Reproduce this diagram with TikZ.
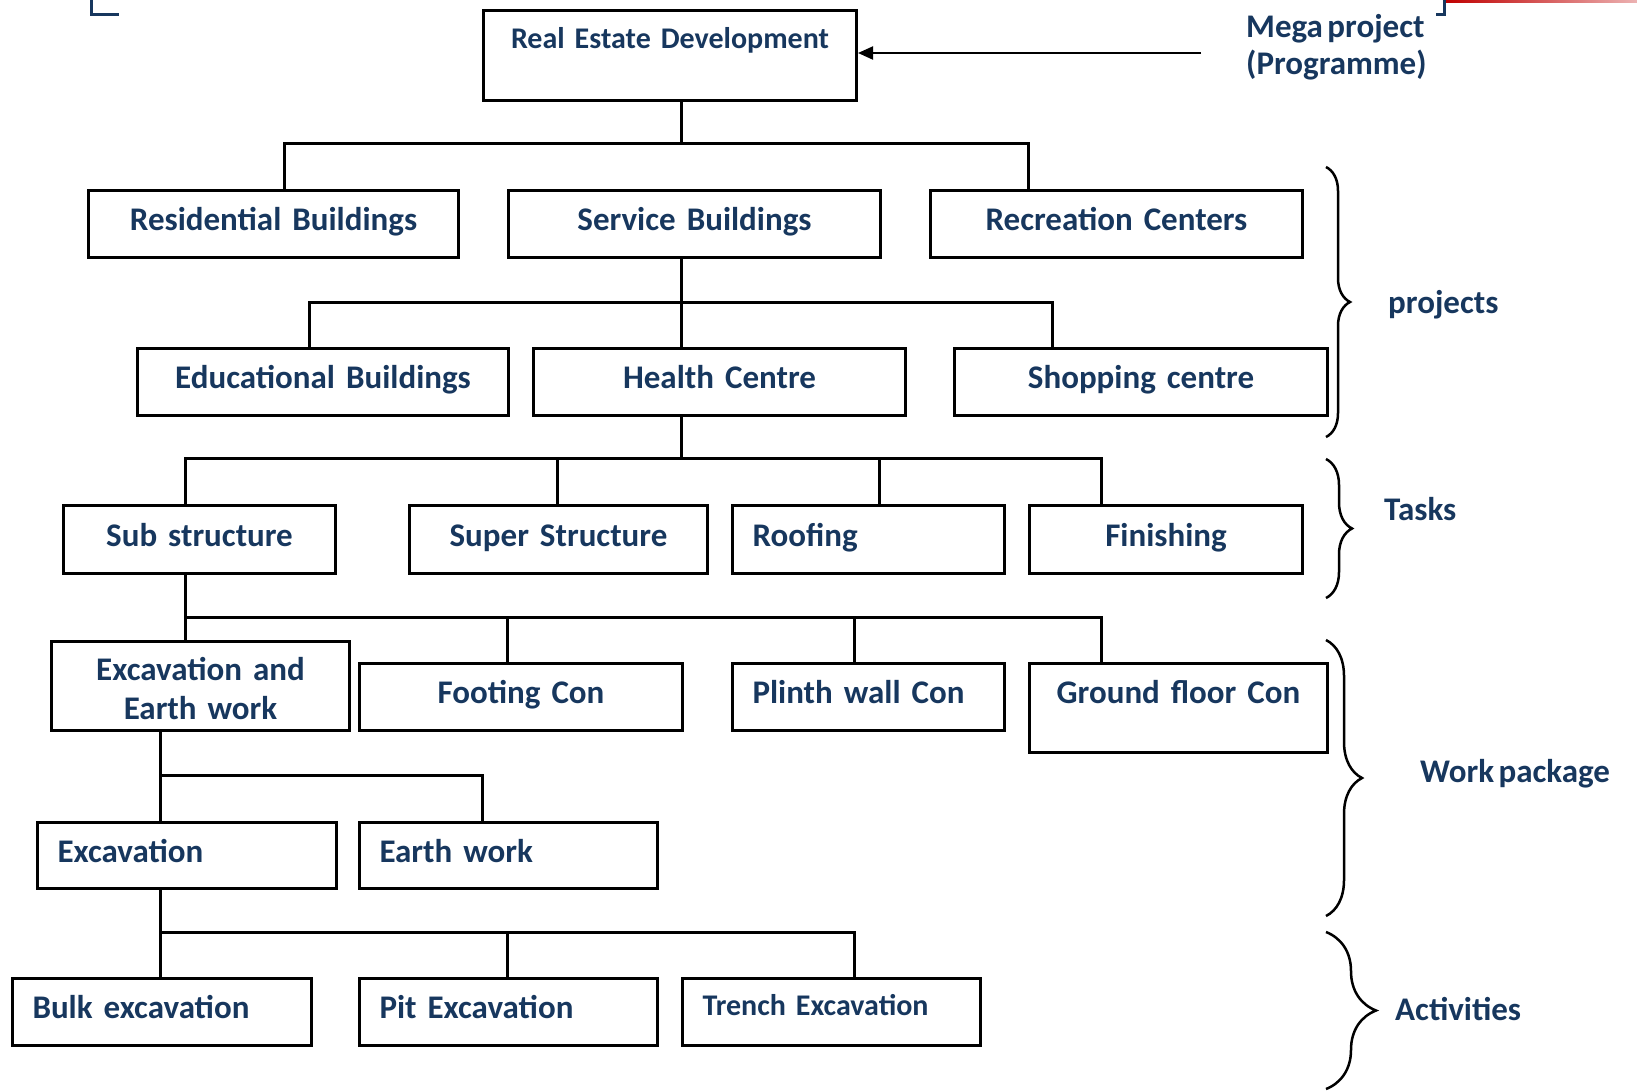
\documentclass[tikz,border=0pt]{standalone}
\usepackage{fontspec}
\setmainfont{Carlito}[WordSpace=0.6]
\usetikzlibrary{decorations.pathreplacing,arrows.meta}
\definecolor{navy}{HTML}{17375E}
\definecolor{framered}{HTML}{C00000}
\newcommand\wbsfont{\fontsize{33}{39}\selectfont\bfseries}
\newcommand\wbssmall{\fontsize{30}{36}\selectfont\bfseries}

\begin{document}
\begin{tikzpicture}[x=1pt,y=-1pt,
  box/.style={draw,line width=3pt,inner xsep=20pt,inner ysep=0pt,anchor=north west,
    text=navy,font=\wbsfont,text height=21.25pt,text depth=8pt},
  sz/.style 2 args={minimum width=#1pt,minimum height=#2pt,text width=#1pt-40pt},
  link/.style={line width=3pt},
  brace/.style={decorate,decoration={brace,amplitude=#1},line width=2.5pt},
  lbl/.style={text=navy,font=\wbsfont,inner sep=0pt,anchor=west,text height=21.25pt,text depth=0pt}]
\useasboundingbox (0,0) rectangle (1637,1090);

\draw[navy,line width=3pt] (91,0) -- (91,14) -- (119,14);
\draw[navy,line width=3pt] (1436,14) -- (1444,14) -- (1444,0);
\shade[left color=framered,right color=framered!30] (1446,0) rectangle (1637,2.7);

\node[box,sz={373}{90},align=center,font=\wbssmall,text height=19.3pt,text depth=33pt] (dev) at (482,9) {Real Estate Development};

\node[box,sz={370}{67},align=center] (resi) at (87,189) {Residential Buildings};
\node[box,sz={372}{67},align=center] (serv) at (507,189) {Service Buildings};
\node[box,sz={372}{67},align=center] (recr) at (929,189) {Recreation Centers};

\node[box,sz={371}{67},align=center] (edu) at (136,347) {Educational Buildings};
\node[box,sz={372}{67},align=center] (health) at (532,347) {Health Centre};
\node[box,sz={373}{67},align=center] (shop) at (953,347) {Shopping centre};

\node[box,sz={272}{68},align=center] (sub) at (62,504) {Sub structure};
\node[box,sz={298}{68},align=center] (super) at (408,504) {Super Structure};
\node[box,sz={272}{68},align=left] (roof) at (731,504) {Roofing};
\node[box,sz={273}{68},align=center] (finish) at (1028,504) {Finishing};

\node[box,sz={298}{89},align=center,text depth=32pt] (exearth) at (50,640) {Excavation and\\Earth work};
\node[box,sz={323}{67},align=center] (footing) at (358,662) {Footing Con};
\node[box,sz={272}{67},align=left] (plinth) at (731,662) {Plinth wall Con};
\node[box,sz={298}{89},align=center,text depth=30.6pt] (ground) at (1028,662) {Ground floor Con};

\node[box,sz={299}{66},align=left] (excav) at (36,821) {Excavation};
\node[box,sz={298}{66},align=left] (earth) at (358,821) {Earth work};

\node[box,sz={299}{67},align=left] (bulk) at (11,977) {Bulk excavation};
\node[box,sz={298}{67},align=left] (pit) at (358,977) {Pit Excavation};
\node[box,sz={298}{67},align=left,font=\wbssmall,text height=19.3pt,text depth=13pt] (trench) at (681,977) {Trench Excavation};

\coordinate (megaend) at (1201,53);
\draw[line width=2pt,-{Triangle[length=15pt,width=13pt]}] (megaend) -- (dev.east |- megaend);
\node[text=navy,font=\fontsize{33}{36.5}\selectfont\bfseries,inner sep=0pt,anchor=base west,align=left] (mega) at (1246,74) {Mega project\\(Programme)};

\coordinate (bus1) at (681,143);
\coordinate (bus1l) at (284,143);
\coordinate (bus1r) at (1028,143);
\draw[link] (dev.south -| bus1) -- (bus1);
\draw[link] (resi.north -| bus1l) -- (bus1l) -- (bus1r) -- (recr.north -| bus1r);

\coordinate (bus2) at (681,302);
\coordinate (bus2l) at (309,302);
\coordinate (bus2r) at (1052,302);
\draw[link] (serv.south -| bus2) -- (health.north -| bus2);
\draw[link] (edu.north -| bus2l) -- (bus2l) -- (bus2r) -- (shop.north -| bus2r);

\coordinate (bus3) at (681,458);
\coordinate (bus3l) at (185,458);
\coordinate (bus3a) at (557,458);
\coordinate (bus3b) at (879,458);
\coordinate (bus3r) at (1101,458);
\draw[link] (health.south -| bus3) -- (bus3);
\draw[link] (sub.north -| bus3l) -- (bus3l) -- (bus3r) -- (finish.north -| bus3r);
\draw[link] (bus3a) -- (super.north -| bus3a);
\draw[link] (bus3b) -- (roof.north -| bus3b);

\coordinate (bus4l) at (185,617);
\coordinate (bus4a) at (507,617);
\coordinate (bus4b) at (854,617);
\coordinate (bus4r) at (1101,617);
\draw[link] (sub.south -| bus4l) -- (exearth.north -| bus4l);
\draw[link] (bus4l) -- (bus4r) -- (ground.north -| bus4r);
\draw[link] (bus4a) -- (footing.north -| bus4a);
\draw[link] (bus4b) -- (plinth.north -| bus4b);

\coordinate (bus5l) at (160,775);
\coordinate (bus5r) at (482,775);
\draw[link] (exearth.south -| bus5l) -- (excav.north -| bus5l);
\draw[link] (bus5l) -- (bus5r) -- (earth.north -| bus5r);

\coordinate (bus6l) at (160,932);
\coordinate (bus6a) at (507,932);
\coordinate (bus6r) at (854,932);
\draw[link] (excav.south -| bus6l) -- (bulk.north -| bus6l);
\draw[link] (bus6l) -- (bus6r) -- (trench.north -| bus6r);
\draw[link] (bus6a) -- (pit.north -| bus6a);

\draw[brace=24pt] (1326,167) -- (1326,437);
\node[lbl] (projects) at (1388,302.5) {projects};
\draw[brace=26pt] (1326,459) -- (1326,598);
\node[lbl] (tasks) at (1384,510) {Tasks};
\draw[brace=36pt] (1326,640) -- (1326,916);
\node[lbl] (workpkg) at (1420,772) {Work package};
\draw[brace=50pt] (1326,932) -- (1326,1089);
\node[lbl] (activities) at (1395,1010) {Activities};
\end{tikzpicture}
\end{document}
